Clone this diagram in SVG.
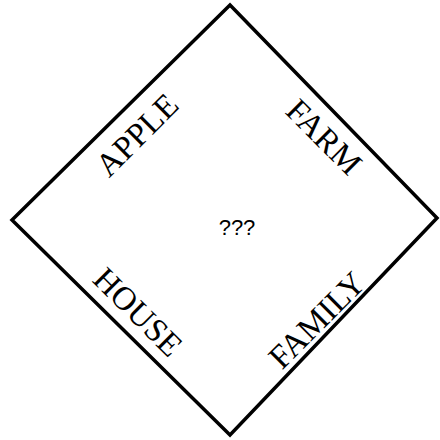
<svg xmlns="http://www.w3.org/2000/svg" width="440" height="440" viewBox="0 0 440 440">
<style>
.lbl{font-family:"Liberation Serif","DejaVu Serif",serif;font-size:33px;fill:#000;text-anchor:middle;dominant-baseline:central}
.q{font-family:"Liberation Sans",Arial,sans-serif;font-size:22px;fill:#000;text-anchor:middle}
</style>
<rect width="440" height="440" fill="#fff"/>
<g id="connectors">
<polygon points="230,5 437,218 230,435 12,220" fill="none" stroke="#000" stroke-width="3.5" stroke-linejoin="miter"/>
</g>
<g id="apple"><text class="lbl" transform="translate(137,135) rotate(-45)">APPLE</text></g>
<g id="farm"><text class="lbl" transform="translate(324,137) rotate(45)">FARM</text></g>
<g id="house"><text class="lbl" transform="translate(138,312) rotate(45)">HOUSE</text></g>
<g id="family"><text class="lbl" transform="translate(317,320) rotate(-45)">FAMILY</text></g>
<g id="center"><text class="q" x="237" y="235">???</text></g>
</svg>
